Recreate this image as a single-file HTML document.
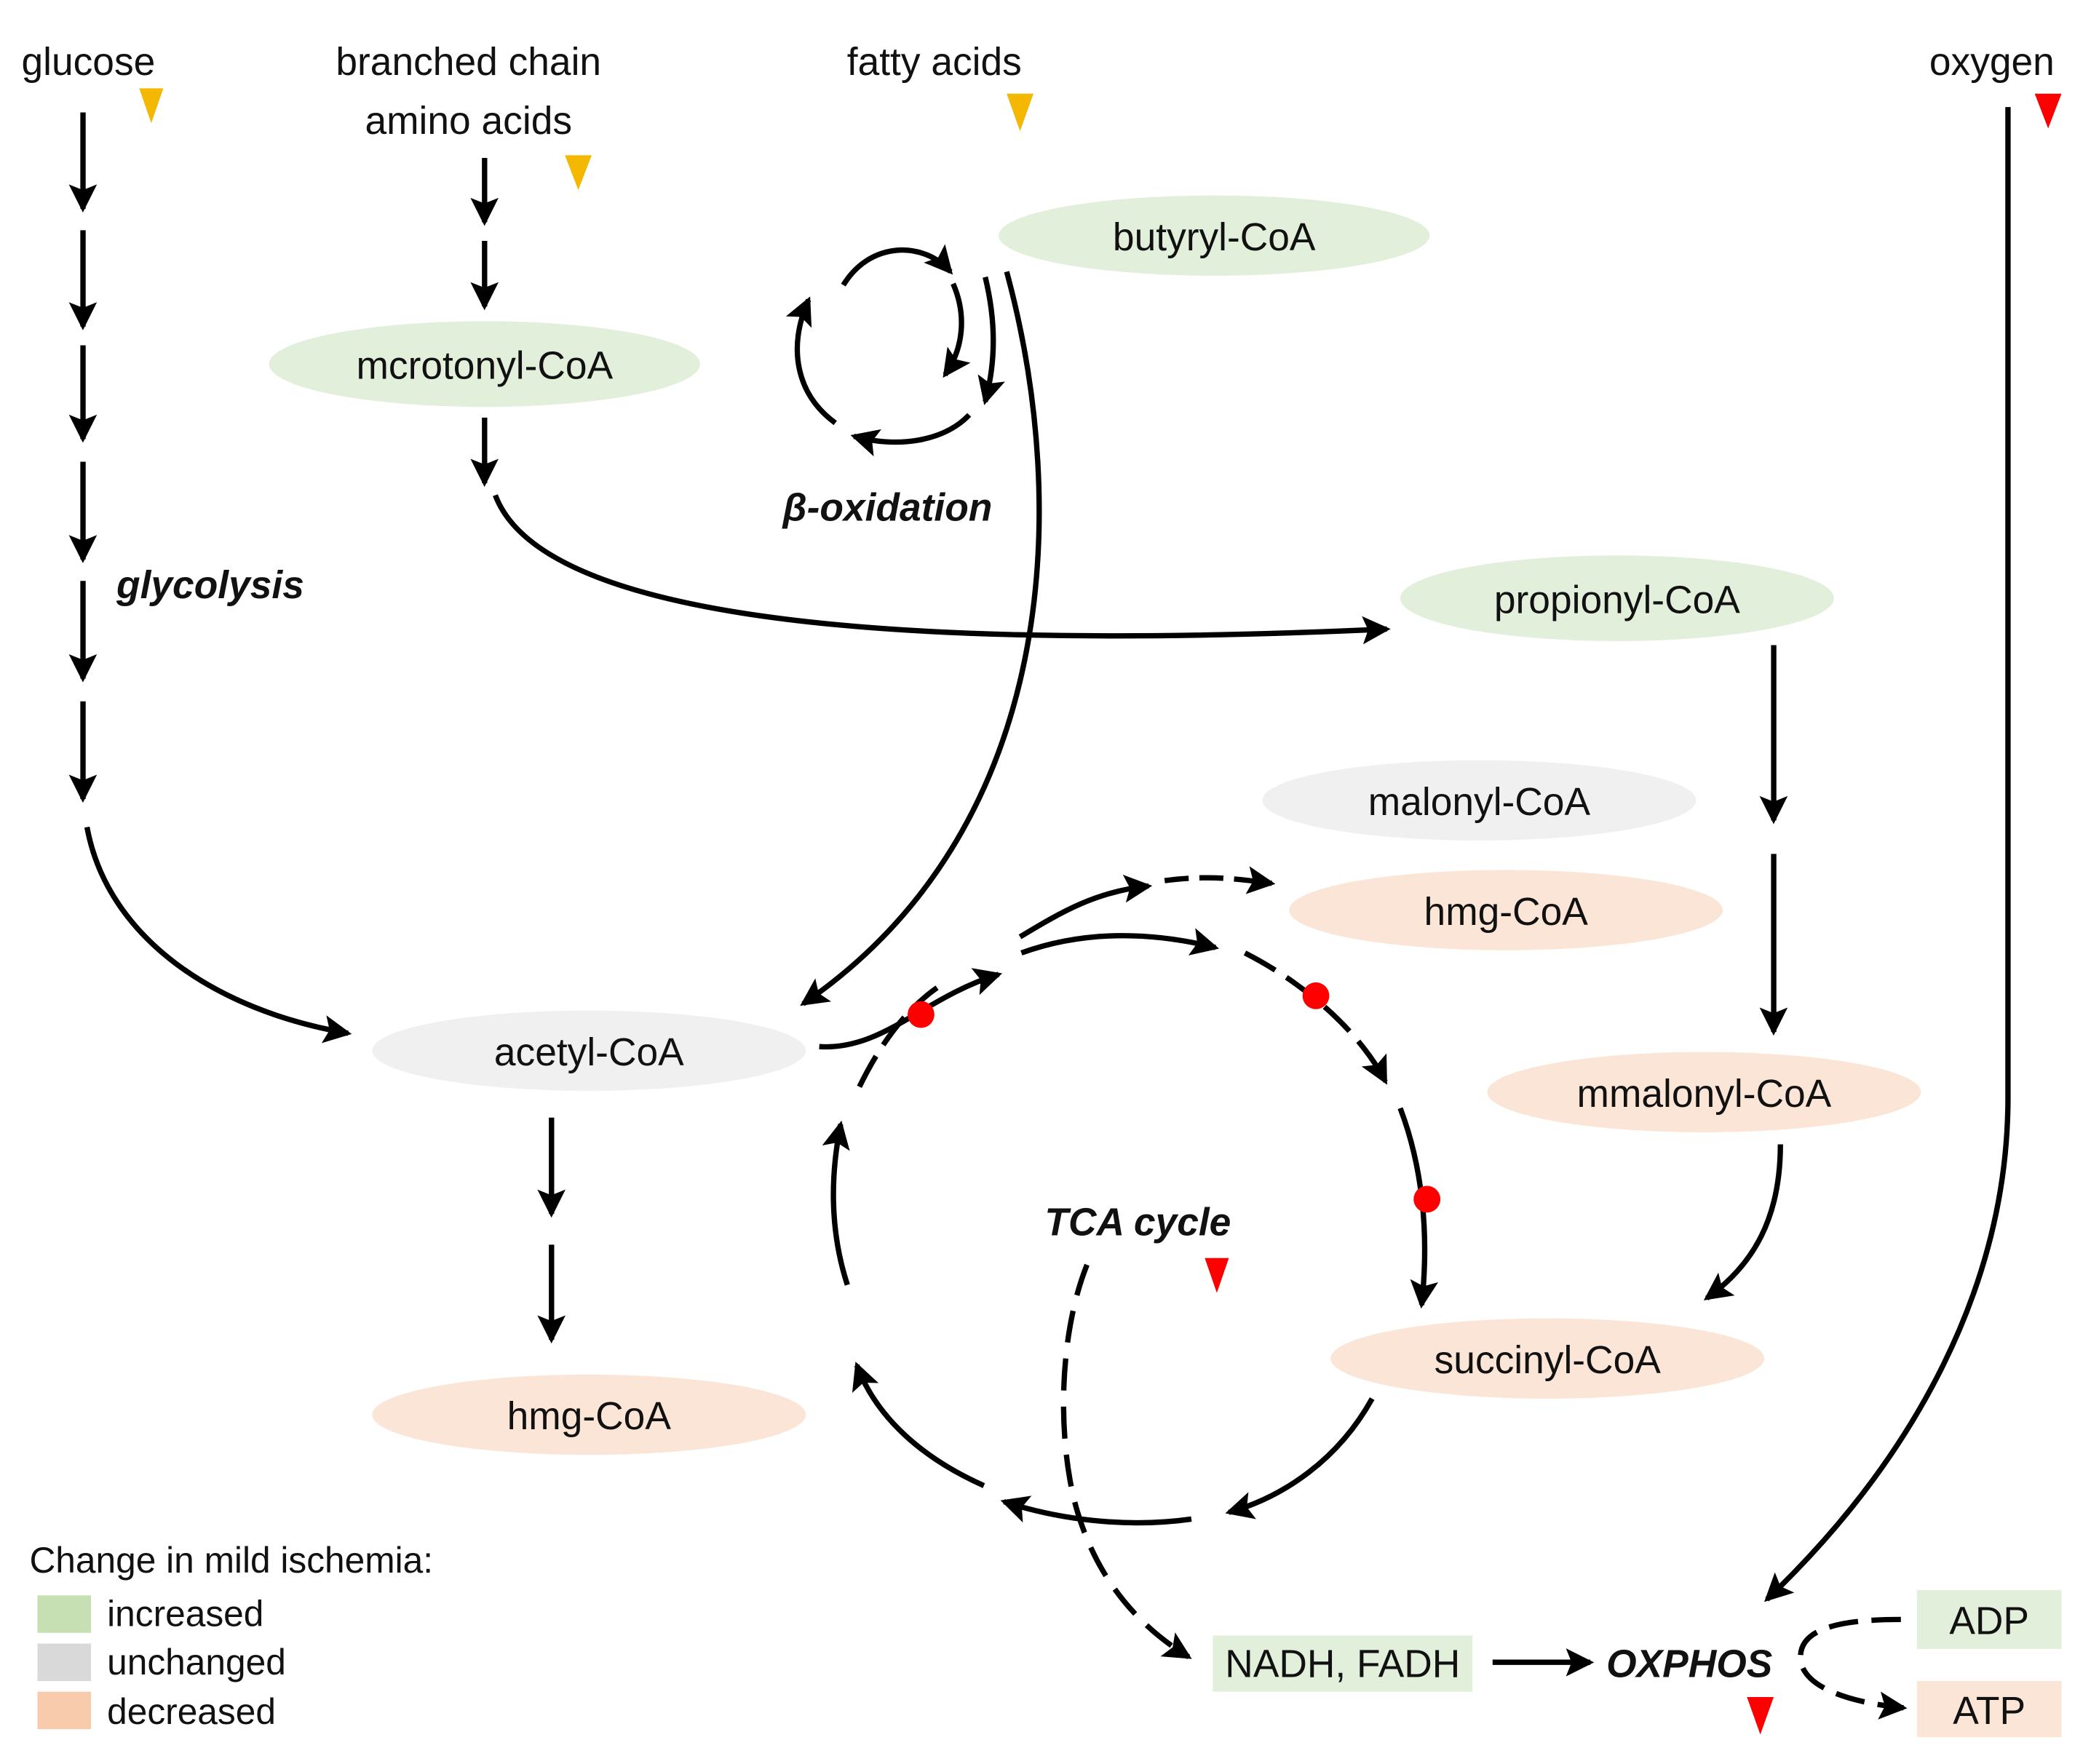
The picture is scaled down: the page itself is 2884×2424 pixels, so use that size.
<!DOCTYPE html>
<html><head><meta charset="utf-8"><style>
html,body{margin:0;padding:0;background:#fff;}
svg{display:block;}
text{font-family:"Liberation Sans",sans-serif;fill:#111;}
</style></head><body>
<svg width="2884" height="2424" viewBox="0 0 1568 1318" preserveAspectRatio="none" xmlns="http://www.w3.org/2000/svg">
<defs>
<marker id="a" viewBox="0 0 10 10" refX="8" refY="5" markerWidth="7" markerHeight="7" markerUnits="userSpaceOnUse" orient="auto" style="overflow:visible">
<path d="M0,0 L10,5 L0,10 L2,5 z" fill="#000" transform="scale(3) translate(-6,-3.3)"/>
</marker>
</defs>
<g fill="none" stroke="#000" stroke-width="4">
<g marker-end="url(#a)">
<line x1="62" y1="84" x2="62" y2="156"/>
<line x1="62" y1="172" x2="62" y2="244"/>
<line x1="62" y1="258" x2="62" y2="328"/>
<line x1="62" y1="345" x2="62" y2="418"/>
<line x1="62" y1="434" x2="62" y2="507"/>
<line x1="62" y1="524" x2="62" y2="597"/>
<path d="M65,618 C80,700 160,755 260,772"/>
<line x1="362" y1="118" x2="362" y2="166"/>
<line x1="362" y1="180" x2="362" y2="229"/>
<line x1="362" y1="312" x2="362" y2="361"/>
<path d="M370,370 C400,450 600,490 1036,470"/>
<path d="M736,207 C744,240 744,270 736,300"/>
<path d="M752,203 C800,380 790,620 600,750"/>
<path d="M630,213 C650,180 690,180 710,203"/>
<path d="M712,212 C722,235 720,260 706,280" />
<path d="M724,310 C705,330 670,335 638,326"/>
<path d="M624,316 C595,295 588,260 604,224"/>
<line x1="1325" y1="482" x2="1325" y2="613"/>
<line x1="1325" y1="638" x2="1325" y2="771"/>
<path d="M1330,855 C1330,910 1310,945 1275,970"/>
<line x1="412" y1="835" x2="412" y2="907"/>
<line x1="412" y1="930" x2="412" y2="1001"/>
<path d="M612,782 C660,785 690,745 746,728"/>
<path d="M762,700 C795,680 820,666 858,662"/>
<path d="M870,658 C900,654 920,656 950,660" stroke-dasharray="18,8"/>
<path d="M763,712 C810,695 860,696 908,708"/>
<path d="M930,712 C975,735 1015,770 1035,808" stroke-dasharray="26,10"/>
<path d="M1046,828 C1062,870 1068,920 1062,975"/>
<path d="M1025,1045 C1000,1090 960,1118 918,1130"/>
<path d="M890,1135 C840,1142 790,1135 750,1122"/>
<path d="M735,1110 C690,1090 655,1060 640,1020"/>
<path d="M633,960 C620,920 620,880 628,840"/>
<path d="M812,945 C790,1000 790,1080 805,1130 C820,1180 850,1215 888,1238" stroke-dasharray="24,12"/>
<line x1="1115" y1="1242" x2="1188" y2="1242"/>
<path d="M1420,1210 C1380,1210 1345,1215 1345,1238 C1345,1260 1380,1272 1422,1276" stroke-dasharray="22,10"/>
<path d="M1500,80 L1500,820 C1500,960 1430,1090 1320,1195"/>
</g>
<path d="M642,812 C660,775 680,752 700,738" stroke-dasharray="26,10"/>
</g>
<ellipse cx="362" cy="272" rx="161" ry="32" fill="#e2efda"/>
<ellipse cx="907" cy="176" rx="161" ry="30" fill="#e2efda"/>
<ellipse cx="1208" cy="447" rx="162" ry="32" fill="#e2efda"/>
<ellipse cx="1105" cy="598" rx="162" ry="30" fill="#f0f0f0"/>
<ellipse cx="1125" cy="680" rx="162" ry="30" fill="#fbe5d6"/>
<ellipse cx="1273" cy="816" rx="162" ry="30" fill="#fbe5d6"/>
<ellipse cx="1156" cy="1015" rx="162" ry="30" fill="#fbe5d6"/>
<ellipse cx="440" cy="785" rx="162" ry="30" fill="#f0f0f0"/>
<ellipse cx="440" cy="1057" rx="162" ry="30" fill="#fbe5d6"/>
<rect x="906" y="1222" width="194" height="42" fill="#e2efda"/>
<rect x="1432" y="1188" width="108" height="44" fill="#e2efda"/>
<rect x="1432" y="1256" width="108" height="42" fill="#fbe5d6"/>
<circle cx="688" cy="758" r="10" fill="#f00"/>
<circle cx="983" cy="744" r="10" fill="#f00"/>
<circle cx="1066" cy="896" r="10" fill="#f00"/>
<polygon points="104,66 122,66 113,92" fill="#f5b800"/>
<polygon points="422,116 442,116 432,142" fill="#f5b800"/>
<polygon points="752,70 772,70 762,98" fill="#f5b800"/>
<polygon points="1520,70 1540,70 1530,96" fill="#f00"/>
<polygon points="900,940 918,940 909,966" fill="#f00"/>
<polygon points="1305,1268 1325,1268 1315,1296" fill="#f00"/>
<g font-size="29">
<text x="66" y="56" text-anchor="middle">glucose</text>
<text x="350" y="56" text-anchor="middle">branched chain</text>
<text x="350" y="100" text-anchor="middle">amino acids</text>
<text x="698" y="56" text-anchor="middle">fatty acids</text>
<text x="1488" y="56" text-anchor="middle">oxygen</text>
<text x="362" y="283" text-anchor="middle">mcrotonyl-CoA</text>
<text x="907" y="187" text-anchor="middle">butyryl-CoA</text>
<text x="1208" y="458" text-anchor="middle">propionyl-CoA</text>
<text x="1105" y="609" text-anchor="middle">malonyl-CoA</text>
<text x="1125" y="691" text-anchor="middle">hmg-CoA</text>
<text x="1273" y="827" text-anchor="middle">mmalonyl-CoA</text>
<text x="1156" y="1026" text-anchor="middle">succinyl-CoA</text>
<text x="440" y="796" text-anchor="middle">acetyl-CoA</text>
<text x="440" y="1068" text-anchor="middle">hmg-CoA</text>
<text x="1003" y="1253" text-anchor="middle">NADH, FADH</text>
<text x="1486" y="1221" text-anchor="middle">ADP</text>
<text x="1486" y="1288" text-anchor="middle">ATP</text>
<text x="87" y="447" font-weight="bold" font-style="italic">glycolysis</text>
<text x="663" y="389" text-anchor="middle" font-weight="bold" font-style="italic">β-oxidation</text>
<text x="850" y="923" text-anchor="middle" font-weight="bold" font-style="italic">TCA cycle</text>
<text x="1262" y="1253" text-anchor="middle" font-weight="bold" font-style="italic">OXPHOS</text>
</g>
<g font-size="27">
<text x="22" y="1175">Change in mild ischemia:</text>
<rect x="28" y="1192" width="40" height="28" fill="#c6e0b4"/>
<rect x="28" y="1228" width="40" height="28" fill="#d9d9d9"/>
<rect x="28" y="1264" width="40" height="28" fill="#f8cbad"/>
<text x="80" y="1215">increased</text>
<text x="80" y="1251">unchanged</text>
<text x="80" y="1288">decreased</text>
</g>
</svg>
</body></html>
